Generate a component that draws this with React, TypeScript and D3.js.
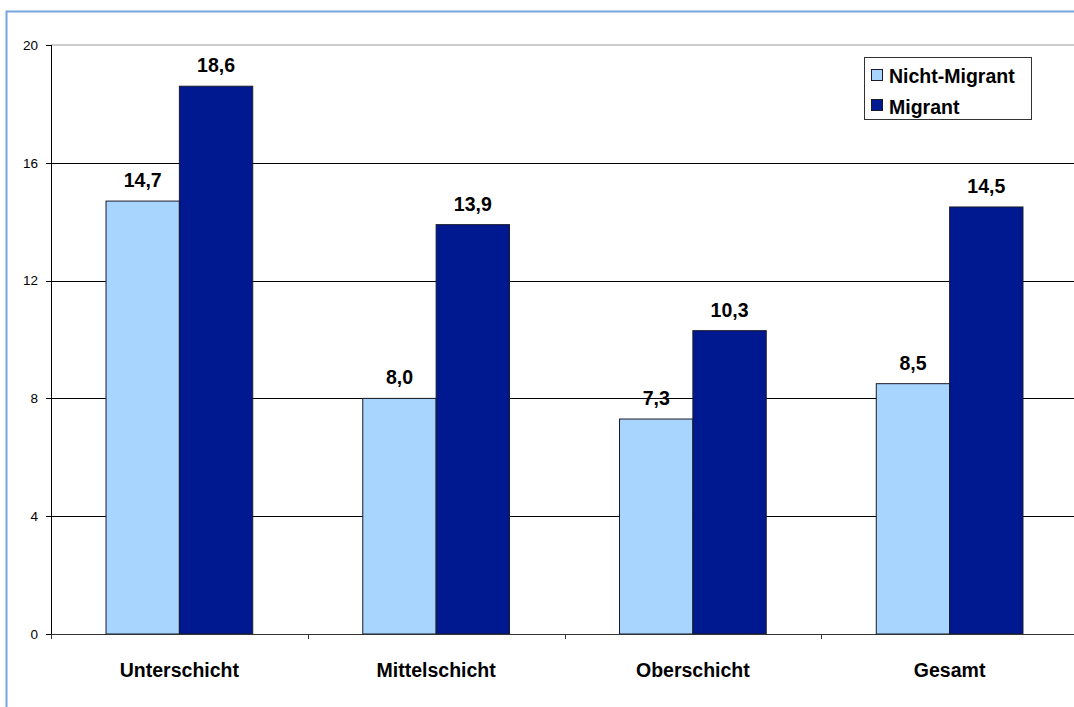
import React from "react";
import * as d3 from "d3";

const categories = ["Unterschicht", "Mittelschicht", "Oberschicht", "Gesamt"];
const seriesNames = ["Nicht-Migrant", "Migrant"];
const nichtMigrant = [14.7, 8.0, 7.3, 8.5];
const migrant = [18.6, 13.9, 10.3, 14.5];
const yTicks = [0, 4, 8, 12, 16, 20];
const colors = ["#a8d5fe", "#001890"];

const W = 1074;
const H = 707;
const plotLeft = 51;
const plotRight = 1078;
const plotTop = 45;
const plotBottom = 634;
const font = "'Liberation Sans', Arial, sans-serif";

export default function App() {
  const x = d3.scaleBand<string>().domain(categories).range([plotLeft, plotRight]).paddingInner(0).paddingOuter(0);
  const xs = d3.scaleBand<string>().domain(seriesNames).range([0, x.bandwidth()]).paddingInner(0).paddingOuter(0.75);
  const y = d3.scaleLinear().domain([0, 20]).range([plotBottom, plotTop]);
  const values = [nichtMigrant, migrant];
  const fmt = (v: number) => v.toFixed(1).replace(".", ",");

  return (
    <svg width={W} height={H} style={{ position: "absolute", left: 0, top: 0, background: "#fff" }} fontFamily={font}>
      <rect x={0} y={0} width={W} height={H} fill="#fff" />
      {/* outer frame */}
      <rect x={6.5} y={11.5} width={W + 20} height={H + 20} fill="none" stroke="#77a5dc" strokeWidth={2} />
      {/* plot border top */}
      <line x1={plotLeft} x2={plotRight} y1={y(20)} y2={y(20)} stroke="#9a9a9a" strokeWidth={1} />
      {/* gridlines */}
      {yTicks.filter(t => t > 0 && t < 20).map(t => (
        <line key={t} x1={plotLeft} x2={plotRight} y1={Math.round(y(t)) + 0.5} y2={Math.round(y(t)) + 0.5} stroke="#000" strokeWidth={1} />
      ))}
      {/* bars */}
      {seriesNames.map((s, si) => (
        <g key={s}>
          {categories.map((c, ci) => {
            const v = values[si][ci];
            const bx = (x(c) as number) + (xs(s) as number);
            return (
              <rect key={c} x={bx} y={y(v)} width={xs.bandwidth()} height={y(0) - y(v)} fill={colors[si]} stroke="#1a1a2a" strokeWidth={1} />
            );
          })}
        </g>
      ))}
      {/* data labels */}
      {seriesNames.map((s, si) => (
        <g key={s + "l"}>
          {categories.map((c, ci) => {
            const v = values[si][ci];
            const cx = (x(c) as number) + (xs(s) as number) + xs.bandwidth() / 2;
            return (
              <text key={c} x={cx} y={y(v) - 14} textAnchor="middle" fontSize={19.5} fontWeight="bold" fill="#000">
                {fmt(v)}
              </text>
            );
          })}
        </g>
      ))}
      {/* y axis */}
      <line x1={plotLeft + 0.5} x2={plotLeft + 0.5} y1={plotTop} y2={plotBottom} stroke="#000" strokeWidth={1} />
      {yTicks.map(t => (
        <g key={"yt" + t}>
          <line x1={plotLeft - 5} x2={plotLeft} y1={Math.round(y(t)) + 0.5} y2={Math.round(y(t)) + 0.5} stroke="#000" />
          <text x={38} y={y(t)} dy="0.35em" textAnchor="end" fontSize={13.5} fill="#000">
            {t}
          </text>
        </g>
      ))}
      {/* x axis */}
      <line x1={plotLeft} x2={plotRight} y1={plotBottom + 0.5} y2={plotBottom + 0.5} stroke="#333" strokeWidth={1.2} />
      {categories.map((c, ci) => (
        <line key={"xt" + c} x1={Math.round(x(c) as number) + 0.5} x2={Math.round(x(c) as number) + 0.5} y1={plotBottom} y2={plotBottom + 5} stroke="#333" />
      ))}
      {categories.map(c => (
        <text key={"xl" + c} x={(x(c) as number) + x.bandwidth() / 2} y={677} textAnchor="middle" fontSize={19.5} fontWeight="bold" fill="#000">
          {c}
        </text>
      ))}
      {/* legend */}
      <rect x={864.5} y={57.5} width={167} height={62} fill="#fff" stroke="#333" strokeWidth={1} />
      {seriesNames.map((s, i) => (
        <g key={"lg" + s}>
          <rect x={871.5} y={69.5 + i * 30} width={11} height={11} fill={colors[i]} stroke="#1a1a2a" />
          <text x={889} y={83 + i * 31} fontSize={19.5} fontWeight="bold" fill="#000">
            {s}
          </text>
        </g>
      ))}
    </svg>
  );
}
